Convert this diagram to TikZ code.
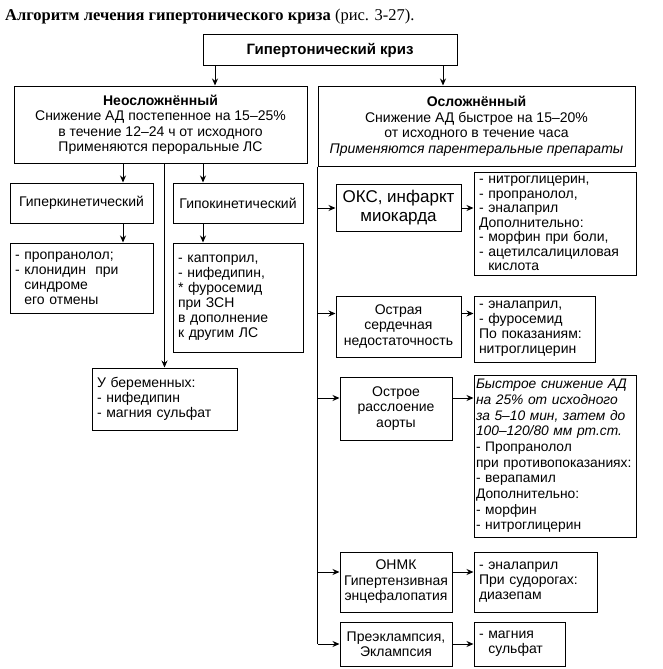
\documentclass[tikz,border=0pt]{standalone}
\usepackage{fontspec}
\setmainfont{Liberation Sans}
\newfontfamily\titlefont{Liberation Serif}
\usetikzlibrary{arrows.meta, positioning, calc}

\tikzset{
	basebox/.style={
		rectangle, draw=black, line width=1pt,
		inner sep=3pt, align=center,
		font=\fontsize{14}{15.5}\selectfont
	},
	listbox/.style={
		basebox, align=left, inner xsep=5pt, inner ysep=2pt,
		font=\fontsize{14}{15}\selectfont
	},
	arrow/.style={
		-{Stealth[length=7pt, width=6pt]}, line width=1pt
	},
	plainline/.style={
		line width=1pt
	}
}

\begin{document}
\begin{tikzpicture}[x=1pt, y=-1pt]
	\useasboundingbox (0,0) rectangle (663,669);
	
	%% ═══════════════════════════════
	%%  TITLE + TOP BOX
	%% ═══════════════════════════════
	\node[anchor=base west, inner sep=0pt,
	font=\titlefont\fontsize{16.5}{18}\selectfont] (title) at (5,21)
	{\textbf{Алгоритм лечения гипертонического криза} (рис. 3-27).};
	
	\node[basebox, font=\fontsize{15}{17}\selectfont\bfseries,
	minimum width=254pt, minimum height=31pt] (crisis) at (330,50.5) {Гипертонический криз};
	
	%% ═══════════════════════════════
	%%  ROW 1 — the two kinds of crisis
	%% ═══════════════════════════════
	\node[basebox, minimum width=293pt, minimum height=77pt] (uncompl) at (160.5,124.5)
	{\textbf{Неосложнённый}\\Снижение АД постепенное на 15–25\%\\в течение 12–24 ч от исходного\\Применяются пероральные ЛС};
	
	\node[basebox, minimum width=317pt, minimum height=80pt] (compl) at (476.5,126)
	{\textbf{Осложнённый}\\Снижение АД быстрое на 15–20\%\\от исходного в течение часа\\\textit{Применяются парентеральные препараты}};
	
	%% ═══════════════════════════════
	%%  LEFT COLUMN — uncomplicated
	%% ═══════════════════════════════
	\node[basebox, minimum width=143pt, minimum height=40pt] (hyper) at (81.5,203) {Гиперкинетический};
	\node[basebox, minimum width=130pt, minimum height=40pt] (hypo)  at (238,203)  {Гипокинетический};
	
	\node[listbox, text width=133pt, minimum height=70pt] (hyperdrugs) at (81.5,278)
	{- пропранолол;\\- клонидин \ при\\\ \ синдроме\\\ \ его отмены};
	
	\node[listbox, text width=120pt, minimum height=109pt] (hypodrugs) at (238,297.5)
	{- каптоприл,\\- нифедипин,\\{*} фуросемид\\при ЗСН\\в дополнение\\к другим ЛС};
	
	\node[listbox, text width=135pt, minimum height=62pt] (pregnant) at (164.5,399)
	{У беременных:\\- нифедипин\\- магния сульфат};
	
	%% ═══════════════════════════════
	%%  RIGHT COLUMN — complicated
	%% ═══════════════════════════════
	\node[basebox, font=\fontsize{17}{19}\selectfont,
	minimum width=125pt, minimum height=47pt] (acs) at (398.5,208) {ОКС, инфаркт\\миокарда};
	\node[listbox, font=\fontsize{14}{14.5}\selectfont,
	text width=152pt, minimum height=103pt] (acsdrugs) at (555,223.5)
	{- нитроглицерин,\\- пропранолол,\\- эналаприл\\Дополнительно:\\- морфин при боли,\\- ацетилсалициловая\\\ \ кислота};
	
	\node[basebox, minimum width=125pt, minimum height=61pt] (ahf) at (398.5,326.5)
	{Острая\\сердечная\\недостаточность};
	\node[listbox, text width=111pt, minimum height=66pt] (ahfdrugs) at (534.5,329)
	{- эналаприл,\\- фуросемид\\По показаниям:\\нитроглицерин};
	
	\node[basebox, minimum width=112pt, minimum height=63pt] (aorta) at (396,408.5)
	{Острое\\расслоение\\аорты};
	\node[listbox, inner xsep=2pt, font=\fontsize{13.8}{15.7}\selectfont,
	text width=158pt, minimum height=162pt] (aortadrugs) at (555,456)
	{\textit{Быстрое снижение АД}\\\textit{на 25\% от исходного}\\\textit{за 5–10 мин, затем до}\\\textit{100–120/80 мм рт.ст.}\\- Пропранолол\\при противопоказаниях:\\- верапамил\\Дополнительно:\\- морфин\\- нитроглицерин};
	
	\node[basebox, minimum width=112pt, minimum height=60pt] (stroke) at (396,582)
	{ОНМК\\Гипертензивная\\энцефалопатия};
	\node[listbox, text width=113pt, minimum height=60pt] (strokedrugs) at (535.5,582)
	{- эналаприл\\При судорогах:\\диазепам};
	
	\node[basebox, minimum width=112pt, minimum height=44pt] (preecl) at (396,644)
	{Преэклампсия,\\Эклампсия};
	\node[listbox, text width=81pt, minimum height=44pt] (preecldrugs) at (519.5,644)
	{- магния\\\ \ сульфат};
	
	%% ═══════════════════════════════
	%%  ARROWS
	%% ═══════════════════════════════
	\coordinate (lefttap)  at (215,0);
	\coordinate (righttap) at (443,0);
	\coordinate (hypertap) at (123,0);
	\coordinate (hypotap)  at (203,0);
	
	% crisis → two kinds
	\draw[arrow] (crisis.south -| lefttap)  -- (uncompl.north -| lefttap);
	\draw[arrow] (crisis.south -| righttap) -- (compl.north -| righttap);
	
	% uncomplicated branch
	\draw[arrow] (uncompl.south -| hypertap) -- (hyper.north -| hypertap);
	\draw[arrow] (uncompl.south -| hypotap)  -- (hypo.north -| hypotap);
	\draw[arrow] (hyper.south -| hypertap)   -- (hyperdrugs.north -| hypertap);
	\draw[arrow] (hypo.south -| hypotap)     -- (hypodrugs.north -| hypotap);
	\draw[arrow] (uncompl.south -| pregnant.north) -- (pregnant.north);
	
	% complicated branch — spine down the left side
	\coordinate (ahfin)    at ([yshift=13pt]ahf.west);
	\coordinate (aortain)  at ([yshift=10.5pt]aorta.west);
	\coordinate (strokein) at ([yshift=10pt]stroke.west);
	
	\draw[plainline] (compl.south west) -- (compl.south west |- preecl.west);
	\draw[arrow] (compl.south west |- acs.west) -- (acs.west);
	\draw[arrow] (compl.south west |- ahfin)    -- (ahfin);
	\draw[arrow] (compl.south west |- aortain)  -- (aortain);
	\draw[arrow] (compl.south west |- strokein) -- (strokein);
	\draw[arrow] (compl.south west |- preecl.west) -- (preecl.west);
	
	% conditions → drugs
	\draw[arrow] (acs.east)            -- (acs.east -| acsdrugs.west);
	\draw[arrow] (ahfin -| ahf.east)   -- (ahfin -| ahfdrugs.west);
	\draw[arrow] (aortain -| aorta.east)   -- (aortain -| aortadrugs.west);
	\draw[arrow] (strokein -| stroke.east) -- (strokein -| strokedrugs.west);
	\draw[arrow] (preecl.east)         -- (preecl.east -| preecldrugs.west);
\end{tikzpicture}
\end{document}
